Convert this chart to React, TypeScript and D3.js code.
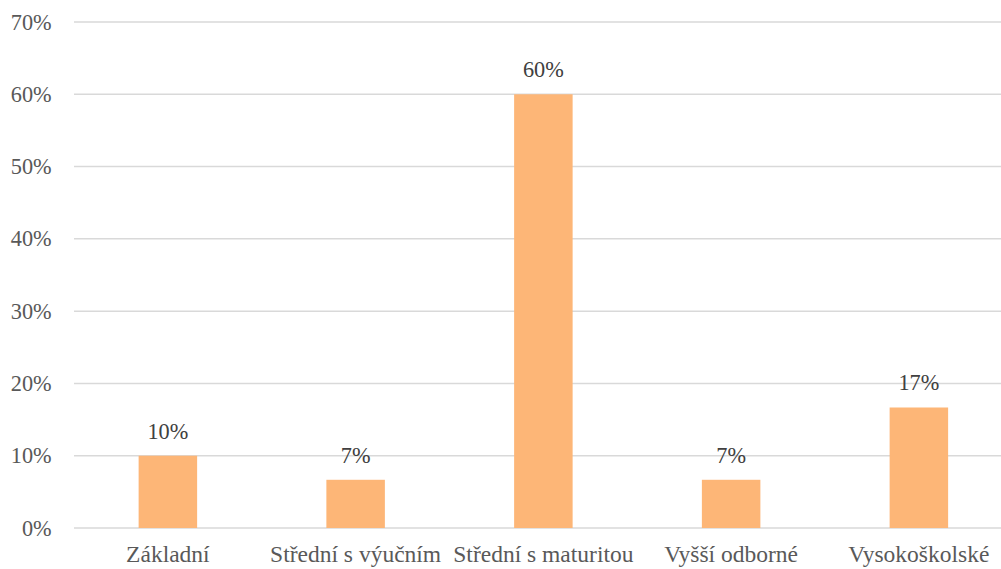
import React from "react";
import * as d3 from "d3";

const categories = ["Základní", "Střední s výučním", "Střední s maturitou", "Vyšší odborné", "Vysokoškolské"];
const shares = [0.1, 0.0667, 0.6, 0.0667, 0.1667];
const yTicks = [0, 0.1, 0.2, 0.3, 0.4, 0.5, 0.6, 0.7];

const W = 1001;
const H = 569;
const left = 74;
const top = 22;
const bottom = 528;
const serif = "'Liberation Serif', 'Times New Roman', Tinos, serif";

export default function App() {
  const x = d3.scaleBand<string>().domain(categories).range([left, left + 5 * 187.75]).padding(0);
  const y = d3.scaleLinear().domain([0, 0.7]).range([bottom, top]);
  const pct = d3.format(".0%");
  const barW = 58.5;

  return (
    <svg
      width={W}
      height={H}
      fontFamily={serif}
      fontSize={22.3}
      style={{ position: "absolute", left: 0, top: 0, background: "#fff", fontFamily: serif }}
    >
      {yTicks.map((t) => (
        <g key={t}>
          <line x1={left} x2={W} y1={y(t)} y2={y(t)} stroke="#d9d9d9" strokeWidth={1.5} />
          <text x={51.7} y={y(t) + 7.5} textAnchor="end" fill="#595959">
            {pct(t)}
          </text>
        </g>
      ))}
      {categories.map((c, i) => {
        const cx = (x(c) as number) + x.bandwidth() / 2;
        const v = shares[i];
        return (
          <g key={c}>
            <rect x={cx - barW / 2} y={y(v)} width={barW} height={bottom - y(v)} fill="#fdb677" />
            <text x={cx} y={y(v) - 17} textAnchor="middle" fill="#404040">
              {pct(v)}
            </text>
            <text x={cx} y={562.3} textAnchor="middle" fontSize={23.5} fill="#595959">
              {c}
            </text>
          </g>
        );
      })}
    </svg>
  );
}
